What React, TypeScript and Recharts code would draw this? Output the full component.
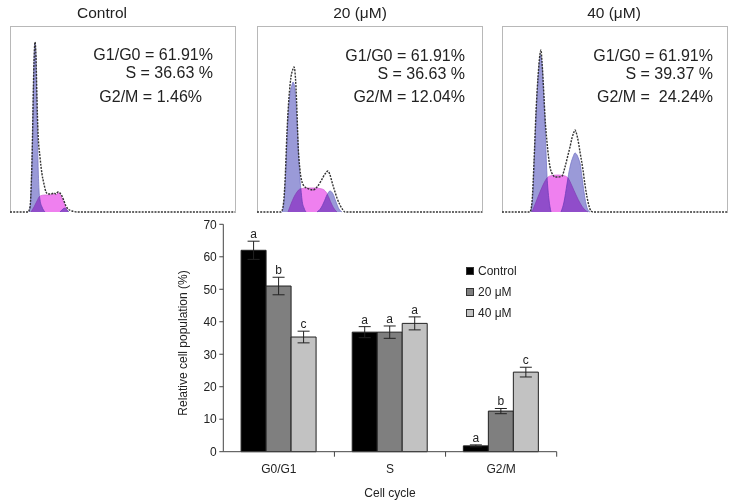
import {
  ComposedChart, Area, Line, BarChart, Bar, XAxis, YAxis, ErrorBar, LabelList, Legend,
} from 'recharts';

type Pt = [number, number];

// DNA histograms, [channel, count] (channel 0..225)
const ctrlG1: Pt[] = [[19, 0], [20, 4], [22, 50], [23, 100], [24, 150], [25, 169], [26, 150], [27, 100], [28, 50], [29, 22], [30, 12], [32, 5], [35, 0]];
const ctrlS: Pt[] = [[21, 0], [24, 5], [27, 11], [30, 16], [35, 17], [40, 17], [44, 18], [46, 17], [48, 19], [50, 18], [52, 14], [54, 9], [56, 4], [58, 0]];
const ctrlG2: Pt[] = [[50, 0], [53, 3], [55, 4], [57, 2], [59, 0]];
const ctrlTotal: Pt[] = [[0, 0], [18, 0], [20, 5], [22, 52], [24, 150], [25, 170], [26, 155], [27, 112], [28, 80], [30, 55], [32, 38], [34, 28], [36, 20], [38, 18], [41, 18], [44, 19], [46, 18], [48, 20], [50, 19], [52, 16], [54, 11], [56, 6], [58, 3], [62, 1], [68, 0], [225, 0]];

const d20G1: Pt[] = [[25, 0], [27, 10], [29, 45], [31, 95], [33, 118], [35, 127], [36, 130], [37, 128], [38, 122], [40, 90], [42, 50], [43, 32], [44, 22], [45, 12], [47, 4], [49, 0]];
const d20S: Pt[] = [[31, 0], [34, 8], [37, 15], [40, 20], [43, 23], [50, 24], [58, 24], [65, 23], [69, 20], [72, 14], [75, 7], [78, 2], [80, 0]];
const d20G2: Pt[] = [[60, 0], [64, 4], [67, 10], [70, 17], [73, 21], [76, 18], [79, 10], [82, 3], [85, 0]];
const d20Total: Pt[] = [[0, 0], [24, 0], [26, 5], [28, 30], [30, 80], [32, 115], [34, 135], [36, 143], [37, 145], [38, 140], [40, 100], [41, 70], [43, 42], [45, 30], [48, 25], [52, 23], [56, 22], [60, 25], [64, 31], [68, 38], [71, 41], [73, 37], [75, 30], [78, 20], [80, 14], [83, 7], [86, 2], [88, 0], [225, 0]];

const d40G1: Pt[] = [[29, 0], [31, 20], [33, 70], [35, 115], [37, 145], [38.5, 157], [40, 148], [42, 110], [43, 90], [44, 60], [45, 36], [46, 22], [47, 12], [48, 5], [49, 0]];
const d40S: Pt[] = [[30, 0], [34, 10], [38, 20], [42, 29], [45, 34], [48, 36], [56, 37], [63, 36], [66, 34], [70, 26], [74, 17], [78, 9], [82, 3], [86, 0]];
const d40G2: Pt[] = [[59, 0], [62, 10], [65, 28], [67, 40], [69, 49], [71, 55], [73, 59], [75, 57], [77, 52], [78, 49], [80, 35], [82, 20], [84, 8], [86, 2], [88, 0]];
const d40Total: Pt[] = [[0, 0], [28, 0], [30, 10], [32, 50], [34, 100], [36, 135], [38, 158], [39, 162], [40, 150], [42, 115], [43, 95], [45, 70], [48, 45], [51, 37], [53, 35], [56, 35], [60, 36], [63, 45], [66, 57], [68, 65], [70, 74], [72, 80], [73, 82], [74, 80], [76, 72], [78, 60], [81, 42], [83, 27], [85, 15], [87, 6], [89, 1], [91, 0], [225, 0]];

// bar chart
const cats = ['G0/G1', 'S', 'G2/M'];
const control = [62, 36.8, 1.8];
const um20 = [51, 36.8, 12.5];
const um40 = [35.3, 39.5, 24.5];
const controlErr = [2.8, 1.7, 0.3];
const um20Err = [2.7, 1.9, 0.8];
const um40Err = [1.8, 2, 1.5];
const controlSig = ['a', 'a', 'a'];
const um20Sig = ['b', 'a', 'b'];
const um40Sig = ['c', 'a', 'c'];
const yTicks = [0, 10, 20, 30, 40, 50, 60, 70];
const legendOrder = ['Control', '20 μM', '40 μM'];

const FONT = '"Liberation Sans", Arial, sans-serif';
const PHASE_FILL = '#9a9ad8';
const PHASE_EDGE = '#7676c6';

const rows = cats.map((cat, i) => ({
  cat,
  control: control[i],
  um20: um20[i],
  um40: um40[i],
  controlErr: controlErr[i],
  um20Err: um20Err[i],
  um40Err: um40Err[i],
}));

function mergeCurves(curves: Record<string, Pt[]>) {
  const byX = new Map<number, any>();
  Object.entries(curves).forEach(([key, pts]) => {
    pts.forEach(([x, y]) => {
      const row = byX.get(x) ?? { x };
      row[key] = y;
      byX.set(x, row);
    });
  });
  return [...byX.values()].sort((a, b) => a.x - b.x);
}

function Histogram({ left, title, titleX, notes, curves }: any) {
  const data = mergeCurves(curves);
  return (
    <>
      <div style={{ position: 'absolute', left: titleX - 60, width: 120, top: 4, textAlign: 'center', fontSize: 15.5, lineHeight: '18px', color: '#222' }}>
        {title}
      </div>
      <div style={{ position: 'absolute', left, top: 26, width: 224, height: 186, borderTop: '1px solid #b8b8b8', borderLeft: '1px solid #b8b8b8', borderRight: '1px solid #b8b8b8' }} />
      <div className="hist" style={{ position: 'absolute', left, top: 26 }}>
        <ComposedChart width={225} height={188} data={data} margin={{ top: 0, right: 0, bottom: 2, left: 0 }}>
          <XAxis type="number" dataKey="x" domain={[0, 225]} hide />
          <YAxis type="number" domain={[0, 186]} hide />
          <Area dataKey="s" type="monotone" fill="#ef80ef" fillOpacity={1} stroke="#d86cd8" strokeWidth={0.8} connectNulls isAnimationActive={false} />
          <Area className="phase" dataKey="g1" type="monotone" fill={PHASE_FILL} fillOpacity={1} stroke={PHASE_EDGE} strokeWidth={0.8} connectNulls isAnimationActive={false} />
          <Area className="phase" dataKey="g2" type="monotone" fill={PHASE_FILL} fillOpacity={1} stroke={PHASE_EDGE} strokeWidth={0.8} connectNulls isAnimationActive={false} />
          <Line dataKey="total" type="monotone" stroke="#333" strokeWidth={1.4} strokeDasharray="2 1.2" dot={false} connectNulls isAnimationActive={false} />
        </ComposedChart>
      </div>
      {notes.map((n: any) => (
        <div key={n.text} style={{ position: 'absolute', left: n.right - 200, width: 200, top: n.y - 9, textAlign: 'right', fontSize: 16, lineHeight: '18px', color: '#222', whiteSpace: 'pre' }}>
          {n.text}
        </div>
      ))}
    </>
  );
}

const CatTick = ({ x, y, payload }: any) => (
  <g>
    <text x={x} y={y} dy="0.71em" textAnchor="middle" fontSize={12} fill="#222" fontFamily={FONT}>
      {payload.value}
    </text>
    <line x1={x + (payload.offset ?? 0)} x2={x + (payload.offset ?? 0)} y1={y - 13} y2={y - 8} stroke="#444" />
  </g>
);

const YLabel = ({ viewBox }: any) => (
  <text
    transform={`translate(${viewBox.x + 13}, ${viewBox.y + viewBox.height / 2 + 5}) rotate(-90)`}
    textAnchor="middle"
    dominantBaseline="central"
    fontSize={12}
    fill="#222"
    fontFamily={FONT}
  >
    Relative cell population (%)
  </text>
);

const sigLabel = (vals: number[], errs: number[], sig: string[]) => (p: any) => {
  const vb = p.viewBox ?? p;
  const i = cats.indexOf(p.value);
  if (i < 0 || !vb) return null;
  const h = Math.abs(vb.height);
  const top = Math.min(vb.y, vb.y + vb.height) - errs[i] * (h / vals[i]) - 3;
  return (
    <text x={vb.x + vb.width / 2} y={top} textAnchor="middle" fontSize={12} fill="#222" fontFamily={FONT}>
      {sig[i]}
    </text>
  );
};

const LegendBox = ({ payload }: any) => {
  const items = [...(payload ?? [])].sort((a: any, b: any) => legendOrder.indexOf(a.value) - legendOrder.indexOf(b.value));
  return (
    <div style={{ fontFamily: FONT }}>
      {items.map((e: any) => (
        <div key={e.value} style={{ display: 'flex', alignItems: 'center', height: 20.8 }}>
          <span style={{ width: 8, height: 8, background: e.color, border: '1px solid #333', boxSizing: 'border-box', marginRight: 4 }} />
          <span style={{ fontSize: 12, color: '#222' }}>{e.value}</span>
        </div>
      ))}
    </div>
  );
};

// phase areas multiply over the S band so overlaps turn purple
const blendCss = `
.hist .recharts-area.phase,
.hist .recharts-area:has(path[fill="${PHASE_FILL}"]) { mix-blend-mode: multiply; }
`;

export default function App() {
  return (
    <div style={{ position: 'absolute', left: 0, top: 0, width: 738, height: 503, background: '#fff', overflow: 'hidden', fontFamily: FONT }}>
      <style>{blendCss}</style>
      <Histogram
        left={10}
        title="Control"
        titleX={102}
        curves={{ g1: ctrlG1, s: ctrlS, g2: ctrlG2, total: ctrlTotal }}
        notes={[
          { text: 'G1/G0 = 61.91%', right: 213, y: 55 },
          { text: 'S = 36.63 %', right: 213, y: 73 },
          { text: 'G2/M = 1.46%', right: 202, y: 97 },
        ]}
      />
      <Histogram
        left={257}
        title="20 (μM)"
        titleX={360}
        curves={{ g1: d20G1, s: d20S, g2: d20G2, total: d20Total }}
        notes={[
          { text: 'G1/G0 = 61.91%', right: 465, y: 56 },
          { text: 'S = 36.63 %', right: 465, y: 74 },
          { text: 'G2/M = 12.04%', right: 465, y: 97 },
        ]}
      />
      <Histogram
        left={502}
        title="40 (μM)"
        titleX={614}
        curves={{ g1: d40G1, s: d40S, g2: d40G2, total: d40Total }}
        notes={[
          { text: 'G1/G0 = 61.91%', right: 713, y: 56 },
          { text: 'S = 39.37 %', right: 713, y: 74 },
          { text: 'G2/M =  24.24%', right: 713, y: 97 },
        ]}
      />
      <div style={{ position: 'absolute', left: 170, top: 215 }}>
        <BarChart
          width={400}
          height={288}
          data={rows}
          margin={{ top: 9.3, right: 13.3, left: 0, bottom: 6.3 }}
          barCategoryGap="16%"
          barGap={0}
        >
          <XAxis
            dataKey="cat"
            height={45}
            tickSize={0}
            tickMargin={13}
            tick={<CatTick />}
            axisLine={{ stroke: '#444' }}
            label={{ value: 'Cell cycle', position: 'insideBottom', offset: 0, fontSize: 12, fill: '#222' }}
          />
          <YAxis
            domain={[0, 70]}
            ticks={yTicks}
            width={53.3}
            tickSize={4}
            tickMargin={2.5}
            tick={{ fontSize: 12, fill: '#222' }}
            axisLine={{ stroke: '#444' }}
            tickLine={{ stroke: '#444' }}
            label={<YLabel />}
          />
          <Legend
            layout="vertical"
            align="center"
            verticalAlign="middle"
            content={<LegendBox />}
            wrapperStyle={{ left: 296, top: 46, width: 90 }}
          />
          <Bar dataKey="control" name="Control" fill="#000" stroke="#222" isAnimationActive={false}>
            <ErrorBar dataKey="controlErr" width={6} stroke="#222" strokeWidth={1} />
            <LabelList dataKey="cat" content={sigLabel(control, controlErr, controlSig)} />
          </Bar>
          <Bar dataKey="um20" name="20 μM" fill="#7f7f7f" stroke="#222" isAnimationActive={false}>
            <ErrorBar dataKey="um20Err" width={6} stroke="#222" strokeWidth={1} />
            <LabelList dataKey="cat" content={sigLabel(um20, um20Err, um20Sig)} />
          </Bar>
          <Bar dataKey="um40" name="40 μM" fill="#c2c2c2" stroke="#222" isAnimationActive={false}>
            <ErrorBar dataKey="um40Err" width={6} stroke="#222" strokeWidth={1} />
            <LabelList dataKey="cat" content={sigLabel(um40, um40Err, um40Sig)} />
          </Bar>
        </BarChart>
      </div>
    </div>
  );
}
